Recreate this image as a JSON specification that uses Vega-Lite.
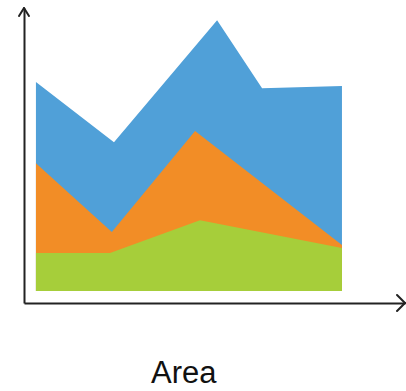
{
  "$schema": "https://vega.github.io/schema/vega-lite/v6.json",
  "width": 381,
  "height": 295,
  "autosize": "none",
  "padding": {"left": 24, "top": 8, "right": 1, "bottom": 88},
  "background": "white",
  "view": {"stroke": null},
  "config": {"font": "Liberation Sans"},
  "title": {"text": "Area", "orient": "bottom", "anchor": "start", "dx": 133, "offset": 47, "fontSize": 31, "fontWeight": "normal", "font": "Liberation Sans", "color": "#111"},
  "datasets": {
    "areas": [
      {"series": "C", "x": 0, "y": 8.86},
      {"series": "C", "x": 2.55, "y": 6.31},
      {"series": "C", "x": 5.92, "y": 11.48},
      {"series": "C", "x": 7.39, "y": 8.6},
      {"series": "C", "x": 10, "y": 8.69},
      {"series": "B", "x": 0, "y": 5.42},
      {"series": "B", "x": 2.48, "y": 2.5},
      {"series": "B", "x": 5.2, "y": 6.78},
      {"series": "B", "x": 10, "y": 1.95},
      {"series": "A", "x": 0, "y": 1.61},
      {"series": "A", "x": 2.42, "y": 1.61},
      {"series": "A", "x": 5.36, "y": 3.0},
      {"series": "A", "x": 10, "y": 1.82}
    ],
    "arrows": [
      {"x": -0.39, "y": 12, "ex": -0.553, "ey": 11.66},
      {"x": -0.39, "y": 12, "ex": -0.227, "ey": 11.66},
      {"x": 12.06, "y": -0.51, "ex": 11.8, "ey": -0.17},
      {"x": 12.06, "y": -0.51, "ex": 11.8, "ey": -0.85}
    ]
  },
  "layer": [
    {"data": {"name": "areas"}, "transform": [{"filter": "datum.series == 'C'"}], "mark": {"type": "area", "stack": null},
      "encoding": {
        "x": {"field": "x", "type": "quantitative", "scale": {"domain": [-0.39, 12.06], "nice": false, "zero": false},
          "axis": {"title": null, "labels": false, "ticks": false, "grid": false, "domainColor": "#222", "domainWidth": 2}},
        "y": {"field": "y", "type": "quantitative", "scale": {"domain": [-0.51, 12], "nice": false, "zero": false},
          "axis": {"title": null, "labels": false, "ticks": false, "grid": false, "domainColor": "#222", "domainWidth": 2}},
        "y2": {"datum": 0},
        "color": {"field": "series", "type": "nominal", "legend": null, "scale": {"domain": ["C", "B", "A"], "range": ["#50A0D8", "#F28D26", "#A6CE3A"]}}}},
    {"data": {"name": "areas"}, "transform": [{"filter": "datum.series == 'B'"}], "mark": {"type": "area", "stack": null},
      "encoding": {"x": {"field": "x", "type": "quantitative"}, "y": {"field": "y", "type": "quantitative"}, "y2": {"datum": 0}, "color": {"field": "series", "type": "nominal", "legend": null}}},
    {"data": {"name": "areas"}, "transform": [{"filter": "datum.series == 'A'"}], "mark": {"type": "area", "stack": null},
      "encoding": {"x": {"field": "x", "type": "quantitative"}, "y": {"field": "y", "type": "quantitative"}, "y2": {"datum": 0}, "color": {"field": "series", "type": "nominal", "legend": null}}},
    {"data": {"name": "arrows"}, "mark": {"type": "rule", "color": "#222", "strokeWidth": 2, "strokeCap": "round", "clip": false},
      "encoding": {"x": {"field": "x", "type": "quantitative"}, "y": {"field": "y", "type": "quantitative"}, "x2": {"field": "ex"}, "y2": {"field": "ey"}}}
  ]
}
